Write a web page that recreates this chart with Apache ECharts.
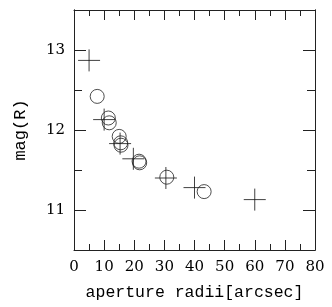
<!DOCTYPE html>
<html><head><meta charset="utf-8">
<script src="https://cdn.jsdelivr.net/npm/echarts@6/dist/echarts.min.js"></script>
<style>html,body{margin:0;padding:0;background:#fff}#c{width:332px;height:307px}</style>
</head><body><div id="c"></div>
<script>
const plusX = [5, 10, 15.3, 19.7, 30.5, 40, 60];
const plusY = [12.87, 12.13, 11.83, 11.64, 11.40, 11.28, 11.13];
const circX = [7.7, 11.4, 11.7, 15.0, 15.5, 15.6, 21.6, 21.8, 30.8, 43.2];
const circY = [12.42, 12.15, 12.09, 11.92, 11.84, 11.81, 11.61, 11.59, 11.41, 11.23];
const xTicks = [0, 10, 20, 30, 40, 50, 60, 70, 80];
const yTicks = [11, 12, 13];
const yMinorTicks = [11.5, 12.5];

const font = 'DejaVu Serif';
const titleFont = 'Liberation Mono';
const chart = echarts.init(document.getElementById('c'), null, {renderer: 'canvas'});
const axLine = {show: true, lineStyle: {color: '#222', width: 1}};
function xAxis(pos, labels) {
  return {type: 'value', position: pos, min: 0, max: 80, interval: 10,
    axisLine: axLine,
    axisTick: {show: true, inside: true, length: 10, lineStyle: {color: '#222'}},
    minorTick: {show: true, splitNumber: 2, length: 6, lineStyle: {color: '#222'}},
    splitLine: {show: false}, minorSplitLine: {show: false},
    axisLabel: {show: labels, color: '#000', fontFamily: font, fontSize: 15, margin: 10,
      formatter: v => xTicks.includes(v) ? String(v) : ''},
    name: labels ? 'aperture radii[arcsec]' : '', nameLocation: 'middle', nameGap: 34,
    nameTextStyle: {color: '#000', fontFamily: titleFont, fontSize: 16.5}
  };
}
function yAxis(pos, labels, ticks, len) {
  return {type: 'value', position: pos, min: 10.5, max: 13.5, interval: 0.5,
    axisLine: axLine,
    axisTick: {show: true, inside: true, length: len, customValues: ticks, lineStyle: {color: '#222'}},
    splitLine: {show: false},
    axisLabel: {show: labels, color: '#000', fontFamily: font, fontSize: 15, margin: 9,
      customValues: labels ? yTicks : undefined},
    name: labels ? 'mag(R)' : '', nameLocation: 'middle', nameGap: 45, nameRotate: 90,
    nameTextStyle: {color: '#000', fontFamily: titleFont, fontSize: 17}
  };
}
chart.setOption({
  animation: false,
  backgroundColor: '#fff',
  grid: {left: 74, right: 17, top: 10, bottom: 57},
  xAxis: [xAxis('bottom', true), xAxis('top', false)],
  yAxis: [yAxis('left', true, yTicks, 12), yAxis('left', false, yMinorTicks, 8),
          yAxis('right', false, yTicks, 12), yAxis('right', false, yMinorTicks, 8)],
  series: [
    {type: 'scatter', xAxisIndex: 0, yAxisIndex: 0,
      data: plusX.map((x, i) => [x, plusY[i]]),
      symbol: 'path://M0,-10L0,10M-10,0L10,0', symbolSize: 22,
      itemStyle: {color: 'none', borderColor: '#111', borderWidth: 1}},
    {type: 'scatter', xAxisIndex: 0, yAxisIndex: 0,
      data: circX.map((x, i) => [x, circY[i]]),
      symbol: 'circle', symbolSize: 14,
      itemStyle: {color: 'rgba(0,0,0,0)', borderColor: '#222', borderWidth: 1}}
  ]
});
</script></body></html>
